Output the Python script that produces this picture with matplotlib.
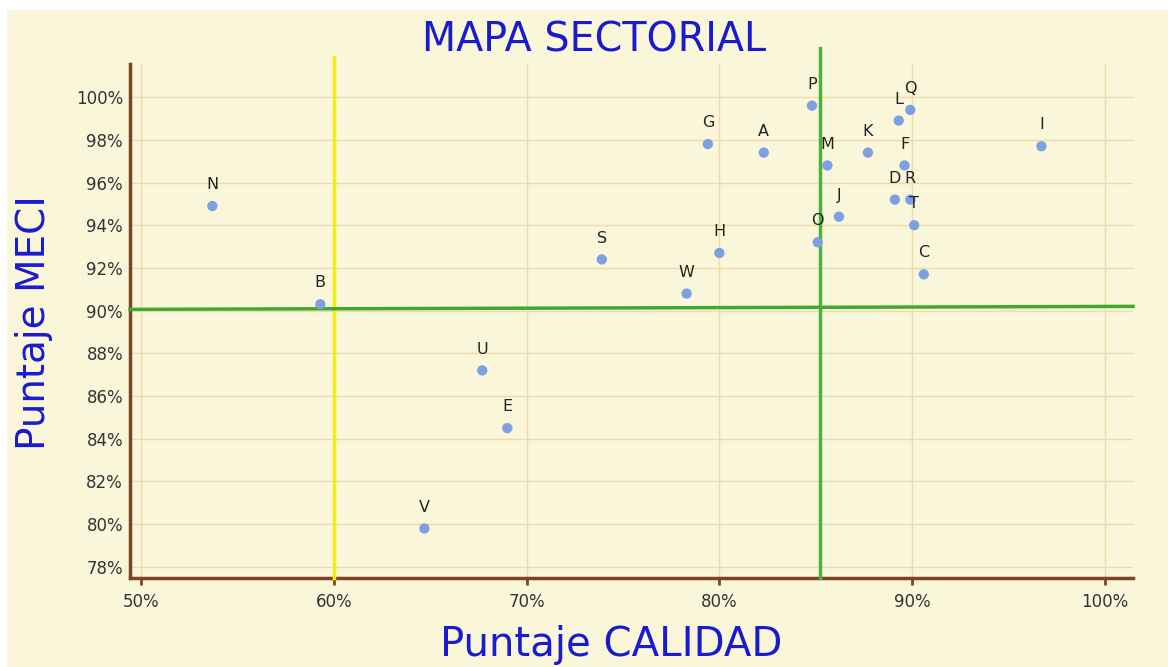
import numpy as np
import matplotlib.pyplot as plt
from matplotlib.patches import Rectangle

etiquetas = ['N', 'B', 'U', 'E', 'V', 'S', 'W', 'H', 'G', 'A', 'P', 'M', 'O',
             'J', 'K', 'L', 'Q', 'F', 'D', 'R', 'T', 'C', 'I']
calidad = [53.7, 59.3, 67.7, 69.0, 64.7, 73.9, 78.3, 80.0, 79.4, 82.3, 84.8, 85.6, 85.1,
           86.2, 87.7, 89.3, 89.9, 89.6, 89.1, 89.9, 90.1, 90.6, 96.7]
meci = [94.9, 90.3, 87.2, 84.5, 79.8, 92.4, 90.8, 92.7, 97.8, 97.4, 99.6, 96.8, 93.2,
        94.4, 97.4, 98.9, 99.4, 96.8, 95.2, 95.2, 94.0, 91.7, 97.7]

# limites de los sectores
lim_calidad_min = 60.0
lim_calidad = 85.2
lim_meci = [90.06, 90.2]

fondo = '#f9f6da'
marron = '#7a4425'
rejilla = '#f0d9ac'
azul_txt = '#1a1ad0'

fig = plt.figure(figsize=(11.68, 6.67), dpi=100, facecolor='white')
fig.patches.append(Rectangle((7 / 1168, 0), 1 - 7 / 1168, 1 - 10 / 667,
                             transform=fig.transFigure, facecolor=fondo,
                             edgecolor='none', zorder=-10))

ax = fig.add_axes([130 / 1168, 1 - 578 / 667, 1003 / 1168, 514 / 667])
ax.set_facecolor(fondo)
ax.set_xlim(49.43, 101.45)
ax.set_ylim(77.48, 101.55)

ax.set_xticks(np.arange(50, 101, 10))
ax.set_xticklabels([f'{v}%' for v in range(50, 101, 10)])
ax.set_yticks(np.arange(78, 101, 2))
ax.set_yticklabels([f'{v}%' for v in range(78, 101, 2)])
ax.grid(True, color=rejilla, lw=1)
ax.set_axisbelow(True)

for s in ['top', 'right']:
    ax.spines[s].set_visible(False)
for s in ['left', 'bottom']:
    ax.spines[s].set_color(marron)
    ax.spines[s].set_linewidth(2.5)
ax.tick_params(axis='x', colors=marron, length=5, width=2, labelcolor='#333333',
               labelsize=12, pad=6)
ax.tick_params(axis='y', length=0, labelcolor='#333333', labelsize=12, pad=5)

# lineas de sectores
ax.plot([lim_calidad_min, lim_calidad_min], [77.48, 101.9], color='#f2ee10', lw=2.5,
        clip_on=False, zorder=3)
ax.plot([lim_calidad, lim_calidad], [77.48, 102.3], color='#4cb33a', lw=2.5,
        clip_on=False, zorder=3)
ax.plot([49.43, 101.45], lim_meci, color='#3faa2e', lw=2.5, clip_on=False, zorder=3)

ax.scatter(calidad, meci, s=55, color='#7f9fe3', zorder=4, edgecolors='none')
for lab, x, y in zip(etiquetas, calidad, meci):
    ax.annotate(lab, (x, y), xytext=(0, 10), textcoords='offset points',
                ha='center', va='bottom', fontsize=11.5, color='#222222', zorder=5)

fig.text(0.509, 0.94, 'MAPA SECTORIAL', ha='center', va='center', fontsize=28.5,
         color=azul_txt)
fig.text(0.523, 0.033, 'Puntaje CALIDAD', ha='center', va='center', fontsize=29,
         color=azul_txt)
fig.text(0.029, 0.517, 'Puntaje MECI', ha='center', va='center', fontsize=28,
         color=azul_txt, rotation=90)

fig.savefig('out.png', dpi=100, facecolor=fig.get_facecolor())
